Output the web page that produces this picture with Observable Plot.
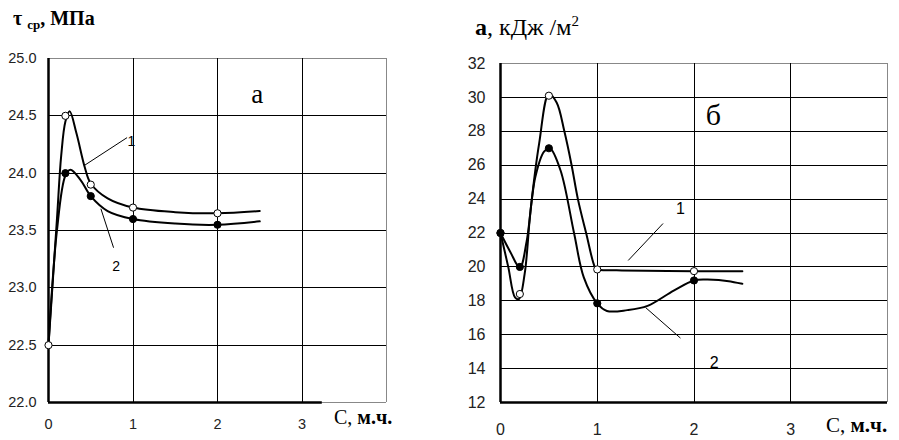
<!DOCTYPE html>
<html><head><meta charset="utf-8">
<script src="https://cdn.jsdelivr.net/npm/d3@7"></script>
<script src="https://cdn.jsdelivr.net/npm/@observablehq/plot@0.6"></script>
<style>
html,body{margin:0;padding:0;background:#fff}
body{width:899px;height:440px;position:relative;overflow:hidden}
.p{position:absolute;top:0}
.t{position:absolute;font-family:"Liberation Serif","Times New Roman",serif;color:#000;white-space:nowrap;line-height:1}
</style></head><body>
<div id="left" class="p" style="left:0"></div>
<div id="right" class="p" style="left:450px"></div>
<div class="t" style="left:13px;top:8px;font-size:20px;font-weight:bold">τ<span style="font-size:13px;position:relative;top:4px;margin-left:5px">ср</span>, МПа</div>
<div class="t" style="left:475px;top:15px;font-size:24px"><b>а</b>, кДж /м<span style="font-size:15px;position:relative;top:-9px">2</span></div>
<div class="t" style="left:334px;top:407px;font-size:20px">С, <b>м.ч.</b></div>
<div class="t" style="left:826px;top:415px;font-size:21px">С, <b>м.ч.</b></div>
<script>
// ---------- shared ----------
const xTicks = [0, 1, 2, 3];

// ---------- panel а : τ ср, МПа ----------
const aYTicks = [22.0, 22.5, 23.0, 23.5, 24.0, 24.5, 25.0];
const aMarkX = [0, 0.2, 0.5, 1, 2];
const aTau1 = [22.5, 24.5, 23.9, 23.7, 23.65];
const aTau2 = [22.5, 24.0, 23.8, 23.6, 23.55];
// traced smooth curves
const aCurve1X = [0, 0.1, 0.15, 0.2, 0.25, 0.33, 0.43, 0.5, 0.7, 1, 1.5, 2, 2.5];
const aCurve1Y = [22.5, 23.6, 24.15, 24.45, 24.54, 24.35, 24.05, 23.91, 23.78, 23.70, 23.66, 23.65, 23.67];
const aCurve2X = [0, 0.1, 0.2, 0.26, 0.38, 0.5, 0.7, 1, 1.5, 2, 2.5];
const aCurve2Y = [22.5, 23.5, 23.98, 24.03, 23.94, 23.80, 23.67, 23.60, 23.56, 23.55, 23.58];
const aLeaderX1 = [0.43, 0.62], aLeaderY1 = [24.07, 23.69];
const aLeaderX2 = [0.93, 0.77], aLeaderY2 = [24.31, 23.35];
const aLabelX = [0.98, 0.80], aLabelY = [24.28, 23.19], aLabelText = ["1", "2"];
const aPanelX = [2.47], aPanelY = [24.69], aPanelText = ["а"];
const aAxisEnd = 3.24;

// ---------- panel б : а, кДж/м² ----------
const bYTicks = [12, 14, 16, 18, 20, 22, 24, 26, 28, 30, 32];
const bMarkX = [0, 0.2, 0.5, 1, 2];
const bA1 = [22, 18.4, 30.1, 19.85, 19.75];
const bA2 = [22, 20.0, 27.0, 17.85, 19.2];
const bCurve1X = [0, 0.08, 0.15, 0.19, 0.25, 0.31, 0.4, 0.5, 0.58, 0.66, 0.735, 0.8, 0.885, 0.975, 1, 1.2, 2, 2.5];
const bCurve1Y = [22, 20, 18.2, 18.1, 19.6, 23.3, 27.3, 30.2, 29.7, 28.0, 26.0, 24.0, 22.0, 20.0, 19.85, 19.8, 19.75, 19.75];
const bCurve2X = [0, 0.1, 0.2, 0.27, 0.36, 0.45, 0.51, 0.62, 0.76, 0.86, 1, 1.1, 1.31, 1.52, 1.79, 2, 2.14, 2.38, 2.5];
const bCurve2Y = [22, 20.9, 19.96, 21.5, 25.3, 26.8, 27.0, 25.7, 22.0, 19.4, 17.85, 17.4, 17.45, 17.7, 18.6, 19.2, 19.25, 19.14, 19.0];
const bLeaderX1 = [1.32, 1.50], bLeaderY1 = [20.38, 17.6];
const bLeaderX2 = [1.68, 1.86], bLeaderY2 = [22.56, 15.8];
const bLabelX = [1.86, 2.21], bLabelY = [23.4, 14.36], bLabelText = ["1", "2"];
const bPanelX = [2.20], bPanelY = [28.93], bPanelText = ["б"];

const pts = (xs, ys) => xs.map((x, i) => ({x, y: ys[i]}));
const links = (x1, y1, x2, y2) => x1.map((v, i) => ({x1: v, y1: y1[i], x2: x2[i], y2: y2[i]}));
const labels = (xs, ys, ts) => xs.map((x, i) => ({x, y: ys[i], t: ts[i]}));

function panel(o) {
  const inner = o.yTicks.filter(v => v > o.yTicks[0] && v < o.yTicks[o.yTicks.length - 1]);
  const top = o.yTicks[o.yTicks.length - 1], bottom = o.yTicks[0];
  const crisp = {shapeRendering: "crispEdges"};
  return Plot.plot({
    width: o.width, height: 440,
    marginLeft: o.ml, marginRight: o.mr, marginTop: o.mt, marginBottom: o.mb,
    x: {domain: [0, 4]},
    y: {domain: [bottom, top]},
    style: {background: "transparent", fontFamily: "'Liberation Sans', Arial, sans-serif", fontSize: o.fs + "px", color: "#222"},
    marks: [
      Plot.ruleY(inner, {stroke: "#000", strokeWidth: 1, ...crisp}),
      Plot.ruleY([top], {stroke: "#888", ...crisp}),
      Plot.ruleX(xTicks.filter(v => v > 0), {stroke: "#000", ...crisp}),
      Plot.ruleX([4], {stroke: "#888", ...crisp}),
      Plot.ruleY([bottom], {stroke: "#888", ...crisp}),
      Plot.ruleY([{y: bottom, x1: 0, x2: o.axisEnd}], {y: "y", x1: "x1", x2: "x2", stroke: "#000", strokeWidth: 2.5}),
      Plot.ruleX([0], {stroke: "#000", strokeWidth: 2.5}),
      Plot.axisY({ticks: o.yTicks, tickFormat: o.yFmt, tickSize: 0, tickPadding: o.yPad, label: null}),
      Plot.axisX({ticks: xTicks, tickFormat: d => String(d), tickSize: 0, tickPadding: o.xPad, label: null}),
      Plot.line(o.c1, {x: "x", y: "y", curve: "catmull-rom", stroke: "#000", strokeWidth: 2}),
      Plot.line(o.c2, {x: "x", y: "y", curve: "catmull-rom", stroke: "#000", strokeWidth: 2}),
      ...o.dots,
      Plot.link(o.links, {x1: "x1", y1: "y1", x2: "x2", y2: "y2", stroke: "#000", strokeWidth: 1}),
      Plot.text(o.labels, {x: "x", y: "y", text: "t", fontSize: o.lfs, fill: "#000"}),
      Plot.text(o.panel, {x: "x", y: "y", text: "t", fontSize: o.pfs, fill: "#000", fontFamily: "'Liberation Serif', 'Times New Roman', serif"})
    ]
  });
}

const openDot = (d) => Plot.dot(d, {x: "x", y: "y", r: 3.6, fill: "white", stroke: "#000", strokeWidth: 1});
const fillDot = (d) => Plot.dot(d, {x: "x", y: "y", r: 3.6, fill: "#000", stroke: "#000", strokeWidth: 1});

document.getElementById("left").appendChild(panel({
  width: 450, ml: 48, mr: 64, mt: 58, mb: 38, fs: 14.5, yPad: 12, xPad: 16,
  yTicks: aYTicks, yFmt: d => d.toFixed(1), axisEnd: aAxisEnd,
  c1: pts(aCurve1X, aCurve1Y), c2: pts(aCurve2X, aCurve2Y),
  dots: [fillDot(pts(aMarkX.slice(1), aTau2.slice(1))), openDot(pts(aMarkX, aTau1))],
  links: links(aLeaderX1, aLeaderY1, aLeaderX2, aLeaderY2),
  labels: labels(aLabelX, aLabelY, aLabelText), lfs: 14,
  panel: labels(aPanelX, aPanelY, aPanelText), pfs: 27
}));

document.getElementById("right").appendChild(panel({
  width: 449, ml: 50, mr: 12, mt: 63, mb: 38, fs: 16, yPad: 15, xPad: 21,
  yTicks: bYTicks, yFmt: d => String(d), axisEnd: 4,
  c1: pts(bCurve1X, bCurve1Y), c2: pts(bCurve2X, bCurve2Y),
  dots: [openDot(pts(bMarkX, bA1)), fillDot(pts(bMarkX, bA2))],
  links: links(bLeaderX1, bLeaderY1, bLeaderX2, bLeaderY2),
  labels: labels(bLabelX, bLabelY, bLabelText), lfs: 16,
  panel: labels(bPanelX, bPanelY, bPanelText), pfs: 30
}));
</script>
</body></html>
